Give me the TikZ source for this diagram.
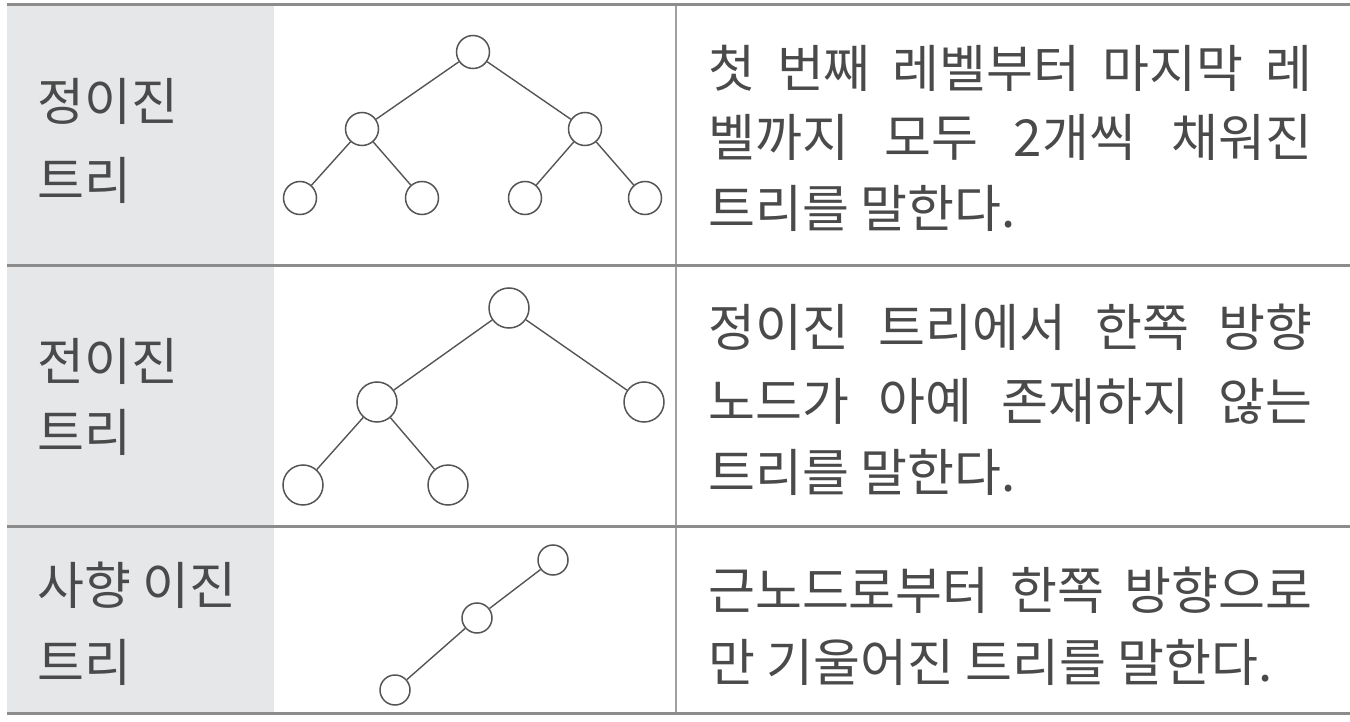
\documentclass[tikz,border=0pt]{standalone}
\usepackage{fontspec}
\setmainfont{Noto Sans CJK KR}
\definecolor{colgray}{HTML}{E6E7E9}
\definecolor{rulegray}{HTML}{8C8C8C}
\definecolor{vrulegray}{HTML}{A0A0A0}
\definecolor{inkgray}{HTML}{4A4A4A}
\definecolor{edgegray}{HTML}{555555}
\tikzset{
  tnode/.style={circle,draw=edgegray,line width=1.5pt,fill=white,inner sep=0pt},
  tsmall/.style={tnode,minimum size=33pt},
  tbig/.style={tnode,minimum size=40pt},
  tmini/.style={tnode,minimum size=30pt},
  tedge/.style={draw=edgegray,line width=1.4pt},
  hrule/.style={draw=rulegray,line width=3pt},
  vrule/.style={draw=vrulegray,line width=2.2pt},
  label/.style={anchor=west,inner sep=0pt,text=inkgray,font=\fontsize{51}{58}\selectfont},
  desc/.style={anchor=west,inner sep=0pt,text=inkgray,font=\fontsize{51}{60}\selectfont},
}
\newcommand{\jline}[1]{\makebox[604pt][s]{#1}}
\begin{document}
\begin{tikzpicture}[x=1pt,y=-1pt]
\useasboundingbox (0,0) rectangle (1350,722);
\fill[white] (0,0) rectangle (1350,722);
% gray column
\fill[colgray] (7,5) rectangle (274,713);
% rules
\coordinate (tl) at (7,5);   \coordinate (tr) at (1350,5);
\coordinate (s1l) at (7,266); \coordinate (s1r) at (1350,266);
\coordinate (s2l) at (7,526); \coordinate (s2r) at (1350,526);
\coordinate (bl) at (7,713);  \coordinate (br) at (1350,713);
\coordinate (vt) at (676,5);  \coordinate (vb) at (676,713);
\draw[vrule] (vt) -- (vb);
\draw[hrule] (tl) -- (tr);
\draw[hrule] (s1l) -- (s1r);
\draw[hrule] (s2l) -- (s2r);
\draw[hrule] (bl) -- (br);

% row 1 labels
\node[label] (l1a) at (37,101) {정이진};
\node[label] (l1b) at (37,180) {트리};
% row 1 tree
\node[tsmall] (p1) at (473,52) {};
\node[tsmall] (p2) at (362,129) {};
\node[tsmall] (p3) at (585,129) {};
\node[tsmall] (p4) at (300,198) {};
\node[tsmall] (p5) at (422,198) {};
\node[tsmall] (p6) at (525,198) {};
\node[tsmall] (p7) at (645,198) {};
\draw[tedge] (p1) -- (p2);
\draw[tedge] (p1) -- (p3);
\draw[tedge] (p2) -- (p4);
\draw[tedge] (p2) -- (p5);
\draw[tedge] (p3) -- (p6);
\draw[tedge] (p3) -- (p7);
% row 1 text
\node[desc] (d1a) at (708,68) {\jline{첫 번째 레벨부터 마지막 레}};
\node[desc] (d1b) at (708,137) {\jline{벨까지 모두 2개씩 채워진}};
\node[desc] (d1c) at (708,208) {트리를 말한다.};

% row 2 labels
\node[label] (l2a) at (37,361) {전이진};
\node[label] (l2b) at (37,432) {트리};
% row 2 tree
\node[tbig] (c1) at (509,308) {};
\node[tbig] (c2) at (377,402) {};
\node[tbig] (c3) at (644,402) {};
\node[tbig] (c4) at (303,485) {};
\node[tbig] (c5) at (448,485) {};
\draw[tedge] (c1) -- (c2);
\draw[tedge] (c1) -- (c3);
\draw[tedge] (c2) -- (c4);
\draw[tedge] (c2) -- (c5);
% row 2 text
\node[desc] (d2a) at (708,327) {\jline{정이진 트리에서 한쪽 방향}};
\node[desc] (d2b) at (708,401) {\jline{노드가 아예 존재하지 않는}};
\node[desc] (d2c) at (708,472) {트리를 말한다.};

% row 3 labels
\node[label] (l3a) at (37,585) {사향 이진};
\node[label] (l3b) at (37,662) {트리};
% row 3 tree
\node[tmini] (k1) at (553,560) {};
\node[tmini] (k2) at (477,618) {};
\node[tmini] (k3) at (395,690) {};
\draw[tedge] (k1) -- (k2);
\draw[tedge] (k2) -- (k3);
% row 3 text
\node[desc] (d3a) at (708,590) {\jline{근노드로부터 한쪽 방향으로}};
\node[desc] (d3b) at (708,662) {만 기울어진 트리를 말한다.};
\end{tikzpicture}
\end{document}
